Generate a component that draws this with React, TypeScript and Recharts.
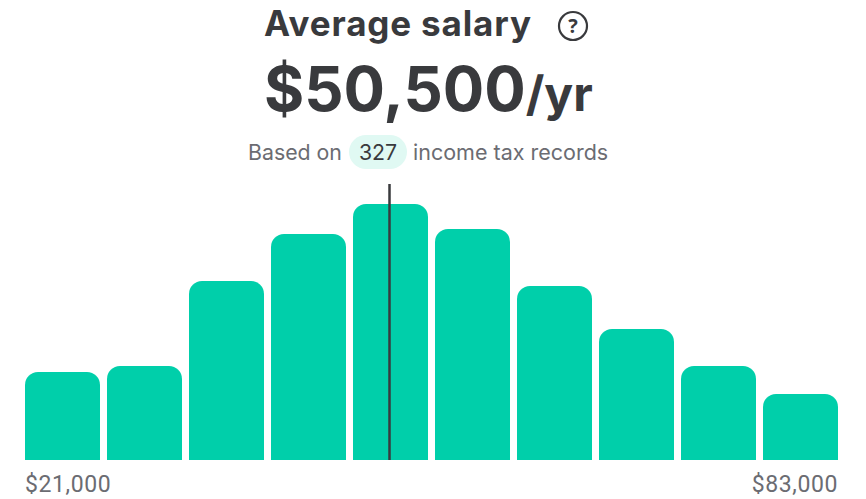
import { BarChart, Bar, XAxis, YAxis, ReferenceLine } from "recharts";

// salary bins, bar heights
const bins = ["b1", "b2", "b3", "b4", "b5", "b6", "b7", "b8", "b9", "b10"];
const counts = [88, 94, 179, 226, 256, 231, 174, 131, 94, 66];
const tickLabels = ["$21,000", "", "", "", "", "", "", "", "", "$83,000"];
const averageBin = "b5";

const data = bins.map((bin, i) => ({ bin, count: counts[i], label: tickLabels[i] }));

const DARK = "#393a3d";
const GRAY = "#6b6c72";

function EdgeTick({ x, y, index }: any) {
  const label = tickLabels[index];
  if (!label) return null;
  const first = index === 0;
  return (
    <text
      x={first ? x - 37.5 : x + 37.5}
      y={y + 24}
      textAnchor={first ? "start" : "end"}
      fontFamily="Roboto"
      fontSize={23}
      letterSpacing={0.6}
      fill={GRAY}
    >
      {label}
    </text>
  );
}

const abs = (left: number, top: number, extra: any) => ({
  position: "absolute" as const,
  left,
  top,
  whiteSpace: "nowrap" as const,
  color: DARK,
  ...extra,
});

export default function App() {
  return (
    <div style={{ position: "absolute", left: 0, top: 0, width: 866, height: 499, background: "#fff" }}>
      <div
        style={abs(264, 1, {
          fontFamily: "Inter",
          fontWeight: 700,
          fontSize: 35,
          letterSpacing: 0.85,
          lineHeight: "45px",
        })}
      >
        Average salary
      </div>
      <svg style={{ position: "absolute", left: 556, top: 9 }} width={34} height={34}>
        <circle cx={17} cy={17} r={14} fill="none" stroke={DARK} strokeWidth={2.2} />
        <text x={17} y={24} textAnchor="middle" fontFamily="Open Sans" fontWeight={700} fontSize={20} fill={DARK}>
          ?
        </text>
      </svg>
      <div style={abs(264, 45, { fontFamily: "Inter", fontWeight: 700, fontSize: 61.5, lineHeight: "88px" })}>
        $50,500<span style={{ fontSize: 48 }}>/yr</span>
      </div>
      <div style={abs(248, 138, { fontFamily: "Inter", fontSize: 21.3, lineHeight: "28px", color: GRAY })}>
        Based on
      </div>
      <div
        style={abs(349, 135, {
          width: 58,
          height: 34,
          borderRadius: 17,
          background: "#e0f9f3",
          textAlign: "center",
          fontFamily: "Inter",
          fontSize: 21.3,
          lineHeight: "34px",
        })}
      >
        327
      </div>
      <div style={abs(413, 138, { fontFamily: "Inter", fontSize: 21.5, lineHeight: "28px", color: GRAY })}>
        income tax records
      </div>
      <BarChart
        width={866}
        height={499}
        data={data}
        margin={{ top: 184, right: 24.5, bottom: 0, left: 21.5 }}
        barCategoryGap={3.5}
        style={{ position: "absolute", left: 0, top: 0 }}
      >
        <XAxis dataKey="bin" height={39} axisLine={false} tickLine={false} interval={0} tick={EdgeTick} />
        <YAxis hide domain={[0, 276]} />
        <Bar dataKey="count" fill="#00cfaa" radius={[13, 13, 0, 0]} isAnimationActive={false} />
        <ReferenceLine
          x={averageBin}
          stroke={DARK}
          shape={(p: any) => <line x1={p.x1 - 1} y1={p.y1} x2={p.x2 - 1} y2={p.y2} stroke={DARK} strokeWidth={2.5} />}
        />
      </BarChart>
    </div>
  );
}
